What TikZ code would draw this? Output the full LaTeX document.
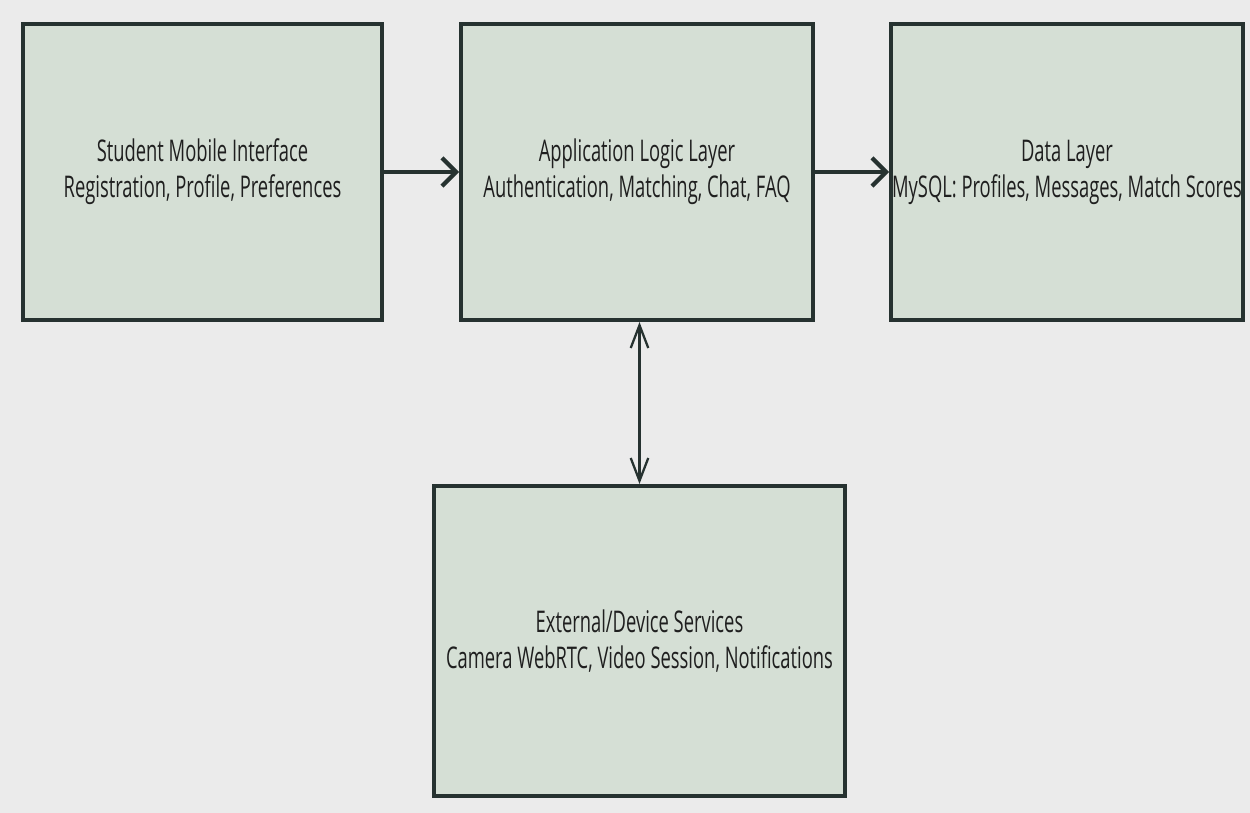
\documentclass[tikz,border=0pt]{standalone}
\usepackage{fontspec}
\setmainfont{Open Sans}[FakeStretch=0.615]
\usepackage{tikz}
\usetikzlibrary{arrows.meta}
\definecolor{bgcol}{HTML}{EBEBEB}
\definecolor{boxfill}{HTML}{D5DFD5}
\definecolor{boxline}{HTML}{263230}

\begin{document}
\begin{tikzpicture}[x=0.02cm,y=-0.02cm,
    layer/.style={draw=boxline,fill=boxfill,line width=2.3pt,align=center,
      minimum width=7.04cm,minimum height=5.92cm,inner sep=0pt,
      font=\fontsize{17}{20.5}\selectfont,text=black!88},
    link/.style={draw=boxline,line width=2.4pt,-{Straight Barb[length=8pt,width=16pt]}},
    both/.style={draw=boxline,line width=1.3pt,{Straight Barb[length=13pt,width=10pt]}-{Straight Barb[length=13pt,width=10pt]}}]
    \fill[bgcol] (0,0) rectangle (1250,813);
    \useasboundingbox (0,0) rectangle (1250,813);
    \node[layer,minimum width=7.18cm] (ui) at (202.5,172) {Student Mobile Interface\\Registration, Profile, Preferences};
    \node[layer] (app) at (637,172) {Application Logic Layer\\Authentication, Matching, Chat, FAQ};
    \node[layer] (data) at (1067,172) {Data Layer\\MySQL: Profiles, Messages, Match Scores};
    \node[layer,minimum width=8.22cm,minimum height=6.2cm] (ext) at (639.5,641) {External/Device Services\\Camera WebRTC, Video Session, Notifications};
    \draw[link] (ui.east) -- (app.west);
    \draw[link] (app.east) -- (data.west);
    \draw[both] (app.south-|ext.north) -- (ext.north);
\end{tikzpicture}
\end{document}
